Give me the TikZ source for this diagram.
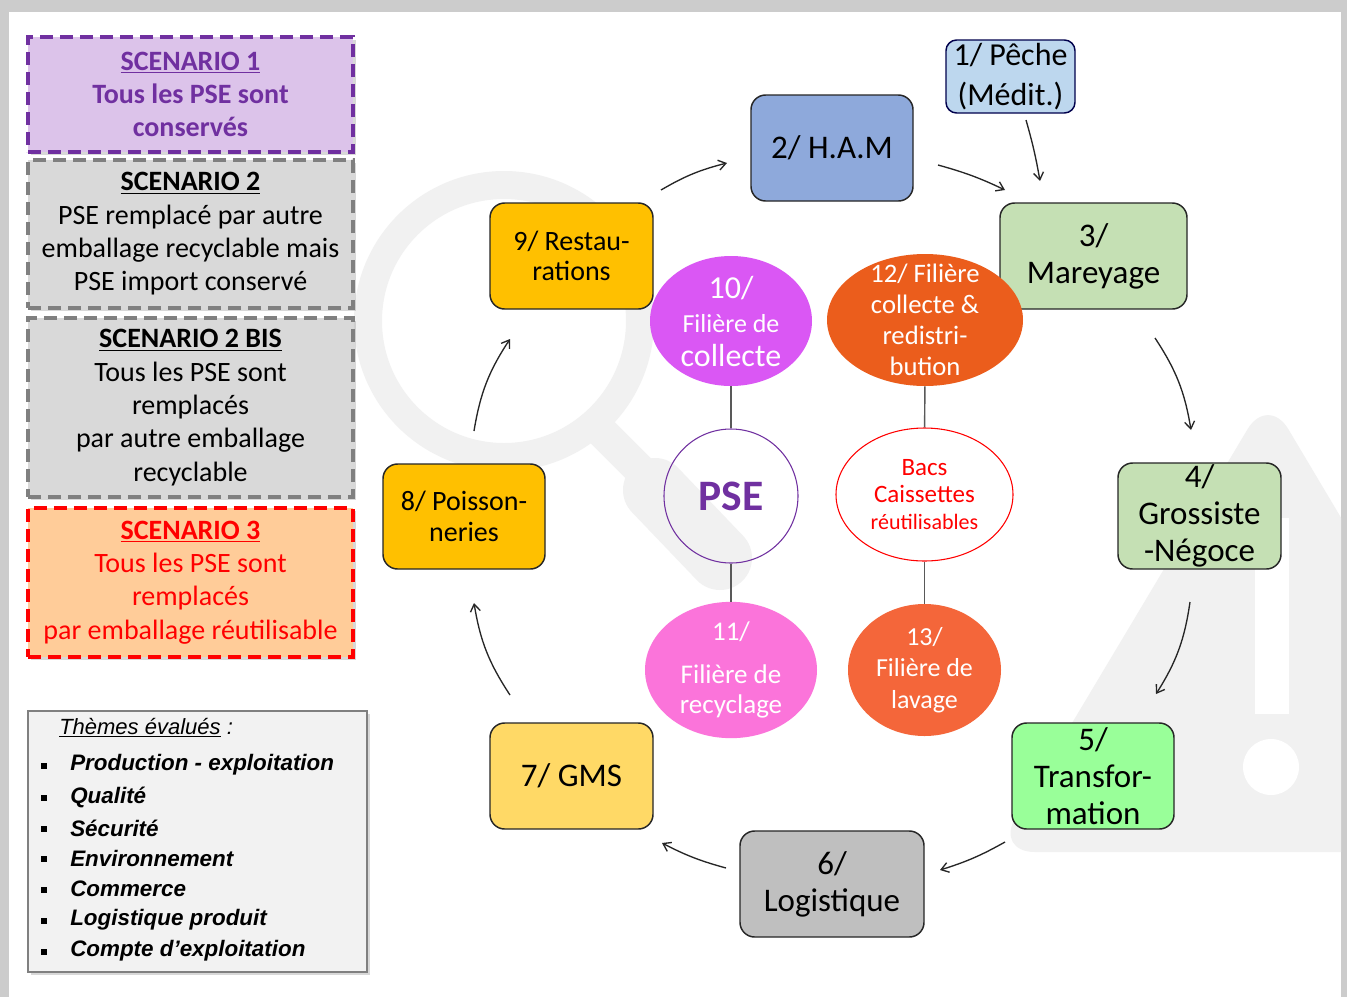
\documentclass[tikz,border=0pt]{standalone}
\usepackage{fontspec}
\setmainfont{Carlito}
\newfontfamily\arialf{Liberation Sans}
\usetikzlibrary{shapes.geometric,arrows.meta,shadows}
\definecolor{purp}{HTML}{7030A0}
\definecolor{lav}{HTML}{DCC3EA}
\definecolor{gris}{HTML}{D9D9D9}
\definecolor{grisb}{HTML}{808080}
\definecolor{peach}{HTML}{FFCC99}
\definecolor{wm}{HTML}{F1F1F1}
\definecolor{cPeche}{HTML}{BDD7EE}
\definecolor{cHam}{HTML}{8EA9DB}
\definecolor{cMar}{HTML}{C5E0B4}
\definecolor{cTra}{HTML}{99FF99}
\definecolor{cLog}{HTML}{BFBFBF}
\definecolor{cGms}{HTML}{FFD966}
\definecolor{cOr}{HTML}{FFC000}
\definecolor{cTen}{HTML}{DA57F4}
\definecolor{cTwelve}{HTML}{EB5D1C}
\definecolor{cEleven}{HTML}{FB74DA}
\definecolor{cThirteen}{HTML}{F4663A}
\begin{document}
\begin{tikzpicture}[x=0.75pt,y=-0.75pt,
  flow/.style={draw=black!85, line width=1pt, -{Straight Barb[length=5.5pt,width=7.5pt]}},
  link/.style={draw=black!65, line width=1.1pt},
  stepbox/.style={draw=black!85, line width=1.1pt, rounded corners=11pt, inner sep=0pt, align=center, minimum height=79.5pt, font=\fontsize{24.75}{27.75}\selectfont},
  oval/.style={ellipse, inner sep=0pt, align=center, text=white},
  scen/.style={line width=3pt, dash pattern=on 10pt off 5pt, minimum width=243.75pt, inner sep=0pt, align=center, font=\fontsize{21}{25}\selectfont, drop shadow={opacity=0.3, shadow xshift=2pt, shadow yshift=-2pt}},
  legtext/.style={anchor=west, inner sep=0pt, font=\arialf\fontsize{16.8}{19}\selectfont\bfseries\itshape},
  bul/.style={fill=black, minimum size=4.5pt, inner sep=0pt}
]
\useasboundingbox (0,0) rectangle (1347,997);
% page frame
\fill[black!20] (0,0) rectangle (1347,997);
\fill[white] (9,12) rectangle (1341,997);
% watermark
\begin{scope}
\clip (9,12) rectangle (1341,997);
\draw[wm, line width=21pt] (504,321) circle[radius=136];
\draw[wm, line width=24pt] (595,425) -- (640,470);
\draw[wm, line width=48pt, line cap=round] (655,490) -- (720,558);
\fill[wm, rounded corners=30] (1268,395) -- (995,852) -- (1540,852) -- cycle;
\fill[white] (1255,518) rectangle (1289,714);
\fill[white] (1271,767) circle[radius=28];
\end{scope}
% scenarios
\node[scen, draw=purp, fill=lav, text=purp, minimum height=86.25pt, font=\fontsize{21}{25}\selectfont\bfseries] (s1) at (190.5,94.5)
  {\underline{SCENARIO 1}\\Tous les PSE sont\\conservés};
\node[scen, draw=grisb, fill=gris, minimum height=111pt] (s2) at (190.5,234)
  {\textbf{\underline{SCENARIO 2}}\\PSE remplacé par autre\\emballage recyclable mais\\PSE import conservé};
\node[scen, draw=grisb, fill=gris, minimum height=134.25pt] (s2b) at (190.5,407.5)
  {\textbf{\underline{SCENARIO 2 BIS}}\\Tous les PSE sont\\remplacés\\par autre emballage\\recyclable};
\node[scen, draw=red, fill=peach, text=red, minimum height=111.75pt] (s3) at (190.5,582.5)
  {\textbf{\underline{SCENARIO 3}}\\Tous les PSE sont\\remplacés\\par emballage réutilisable};
% legend
\node[draw=grisb, fill=black!5, line width=0.8pt, minimum width=254.25pt, minimum height=195.75pt, inner sep=0pt, drop shadow={opacity=0.3, shadow xshift=2pt, shadow yshift=-2pt}] (leg) at (197.5,841.5) {};
\node[anchor=west, inner sep=0pt, font=\arialf\fontsize{16.5}{19}\selectfont\itshape] (lt) at (59,728) {\underline{Thèmes évalués} :};
\node[legtext] (l1) at (70,765) {Production - exploitation};
\node[legtext] (l2) at (70,797) {Qualité};
\node[legtext] (l3) at (70,828) {Sécurité};
\node[legtext] (l4) at (70,858) {Environnement};
\node[legtext] (l5) at (70,889) {Commerce};
\node[legtext] (l6) at (70,920) {Logistique produit};
\node[legtext] (l7) at (70,951) {Compte d’exploitation};
\foreach \yy/\nn in {766/b1,798/b2,829/b3,859/b4,890/b5,921/b6,952/b7}
  \node[bul] (\nn) at (44,\yy) {};
% cycle nodes
\node[stepbox, fill=cPeche, draw=black!70!blue, rounded corners=8pt, minimum width=96.75pt, minimum height=54.75pt, font=\fontsize{24}{30}\selectfont] (n1) at (1010.5,76.5) {1/ Pêche\\(Médit.)};
\node[stepbox, fill=cHam, minimum width=121.5pt] (n2) at (832,148) {2/ H.A.M};
\node[stepbox, fill=cMar, minimum width=140.25pt] (n3) at (1093.5,256) {3/\\Mareyage};
\node[stepbox, fill=cMar, minimum width=122.25pt] (n4) at (1199.5,516) {4/\\Grossiste\\-Négoce};
\node[stepbox, fill=cTra, minimum width=121.5pt] (n5) at (1093,776) {5/\\Transfor-\\mation};
\node[stepbox, fill=cLog, minimum width=138pt] (n6) at (832,884) {6/\\Logistique};
\node[stepbox, fill=cGms, minimum width=122.25pt] (n7) at (571.5,776) {7/ GMS};
\node[stepbox, fill=cOr, minimum width=121.5pt, minimum height=78.75pt, font=\fontsize{21}{22.9}\selectfont] (n8) at (464,516.5) {8/ Poisson-\\neries};
\node[stepbox, fill=cOr, minimum width=122.25pt, font=\fontsize{21}{22.9}\selectfont] (n9) at (571.5,256) {9/ Restau-\\rations};
% centre ovals
\node[oval, fill=cTen, minimum width=121.5pt, minimum height=97.5pt, font=\fontsize{24}{25.5}\selectfont] (e10) at (731,321)
  {10/\\{\fontsize{19.5}{25.5}\selectfont Filière de}\\collecte};
\node[oval, fill=cTwelve, minimum width=147pt, minimum height=99pt] (e12) at (925,320) {};
\node[inner sep=0pt, align=center, text=white, font=\fontsize{20}{23.25}\selectfont] (t12) at (e12.center)
  {12/ Filière\\collecte \&\\redistri-\\bution};
\node[oval, draw=purp, line width=0.8pt, minimum width=100.5pt, minimum height=100.5pt, text=purp, font=\fontsize{32.6}{34}\selectfont\bfseries] (pse) at (731,496) {PSE};
\node[oval, draw=red, line width=0.8pt, minimum width=132.75pt, minimum height=99.75pt, text=red, font=\fontsize{18.75}{20}\selectfont] (bacs) at (924.5,494.5)
  {Bacs\\Caissettes\\{\fontsize{16.5}{20}\selectfont réutilisables}};
\node[oval, fill=cEleven, minimum width=129pt, minimum height=99pt, font=\fontsize{20.25}{22.5}\selectfont] (e11) at (731,670)
  {11/\\[9.75pt]Filière de\\recyclage};
\node[oval, fill=cThirteen, minimum width=114.75pt, minimum height=99pt, font=\fontsize{19.5}{23.6}\selectfont] (e13) at (924.5,670)
  {13/\\Filière de\\lavage};
\draw[link] (e10) -- (pse);
\draw[link] (pse) -- (e11);
\draw[link] (e12) -- (bacs);
\draw[link] (bacs) -- (e13);
% arrows (free-standing)
\coordinate (a92s) at (661,190); \coordinate (a92e) at (727,163);
\coordinate (a23s) at (938,165); \coordinate (a23e) at (1005,190);
\coordinate (a13s) at (1026,120); \coordinate (a13e) at (1040,181);
\coordinate (a34s) at (1155,338); \coordinate (a34e) at (1191,430);
\coordinate (a45s) at (1190,602); \coordinate (a45e) at (1156,694);
\coordinate (a56s) at (1005,842); \coordinate (a56e) at (940,870);
\coordinate (a67s) at (726,868); \coordinate (a67e) at (662,843);
\coordinate (a78s) at (510,695); \coordinate (a78e) at (474,603);
\coordinate (a89s) at (474,431); \coordinate (a89e) at (510,339);
\draw[flow] (a92s) to[bend left=8] (a92e);
\draw[flow] (a23s) to[bend left=5] (a23e);
\draw[flow] (a13s) to[bend left=3] (a13e);
\draw[flow] (a34s) to[bend left=12] (a34e);
\draw[flow] (a45s) to[bend left=12] (a45e);
\draw[flow] (a56s) to[bend left=6] (a56e);
\draw[flow] (a67s) to[bend left=6] (a67e);
\draw[flow] (a78s) to[bend left=12] (a78e);
\draw[flow] (a89s) to[bend left=12] (a89e);
\end{tikzpicture}
\end{document}
